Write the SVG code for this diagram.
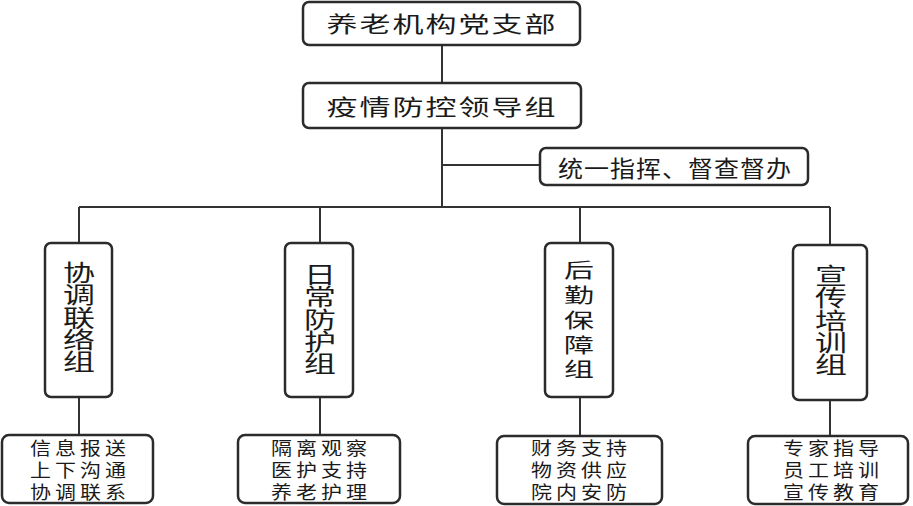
<svg xmlns="http://www.w3.org/2000/svg" width="913" height="506" viewBox="0 0 913 506">
<style>
.box{fill:#fff;stroke:#2b2b2b;stroke-width:2.5}
.ln{stroke:#333;stroke-width:2;fill:none}
text{font-family:"Noto Sans CJK SC","Noto Sans CJK JP",sans-serif;fill:#1a1a1a;text-anchor:middle;dominant-baseline:central}
.t1{font-size:31px;letter-spacing:2px}
.t2{font-size:25px;letter-spacing:1px}
.tv{font-size:32px}
.tv3{font-size:30px}
.tb{font-size:21px;letter-spacing:4px}
</style>
<rect width="913" height="506" fill="#fff"/>
<g id="connectors">
<path class="ln" d="M442 45V83M442 128V207M442 165H540M79 207H830M79 207V243M320 207V243M580 207V243M830 207V245M79 397V435M320 397V435M580 397V436M830 400V436"/>
</g>
<g id="n1"><rect class="box" x="303" y="2" width="277" height="43" rx="6"/><text class="t1" transform="translate(442,23) scale(1,0.68)">养老机构党支部</text></g>
<g id="n2"><rect class="box" x="303" y="83" width="278" height="45" rx="6"/><text class="t1" transform="translate(442,106) scale(1,0.68)">疫情防控领导组</text></g>
<g id="n3"><rect class="box" x="540" y="148" width="268" height="37" rx="6"/><text class="t2" transform="translate(675,167) scale(1,0.9)">统一指挥、督查督办</text></g>
<g id="g1"><rect class="box" x="45" y="243" width="67" height="154" rx="6"/><text class="tv" transform="translate(79,271) scale(1,0.7)"><tspan x="0" y="0">协</tspan><tspan x="0" y="32">调</tspan><tspan x="0" y="64">联</tspan><tspan x="0" y="96">络</tspan><tspan x="0" y="128">组</tspan></text></g>
<g id="g2"><rect class="box" x="285" y="243" width="68" height="154" rx="6"/><text class="tv" transform="translate(320,273) scale(1,0.7)"><tspan x="0" y="0">日</tspan><tspan x="0" y="32">常</tspan><tspan x="0" y="64">防</tspan><tspan x="0" y="96">护</tspan><tspan x="0" y="128">组</tspan></text></g>
<g id="g3"><rect class="box" x="545" y="243" width="68" height="154" rx="6"/><text class="tv3" transform="translate(579,268) scale(1,0.68)"><tspan x="0" y="0">后</tspan><tspan x="0" y="36.76">勤</tspan><tspan x="0" y="73.5">保</tspan><tspan x="0" y="110.3">障</tspan><tspan x="0" y="147">组</tspan></text></g>
<g id="g4"><rect class="box" x="793" y="245" width="74" height="155" rx="6"/><text class="tv" transform="translate(831,274) scale(1,0.7)"><tspan x="0" y="0">宣</tspan><tspan x="0" y="32">传</tspan><tspan x="0" y="64">培</tspan><tspan x="0" y="96">训</tspan><tspan x="0" y="128">组</tspan></text></g>
<g id="b1"><rect class="box" x="2" y="435" width="151" height="68" rx="7"/><text class="tb" transform="translate(80,446.5) scale(1,0.85)"><tspan x="0" y="0">信息报送</tspan><tspan x="0" y="26">上下沟通</tspan><tspan x="0" y="52">协调联系</tspan></text></g>
<g id="b2"><rect class="box" x="238" y="435" width="162" height="68" rx="7"/><text class="tb" transform="translate(321,446.5) scale(1,0.85)"><tspan x="0" y="0">隔离观察</tspan><tspan x="0" y="26">医护支持</tspan><tspan x="0" y="52">养老护理</tspan></text></g>
<g id="b3"><rect class="box" x="497" y="436" width="165" height="68" rx="7"/><text class="tb" transform="translate(581,446.5) scale(1,0.85)"><tspan x="0" y="0">财务支持</tspan><tspan x="0" y="26">物资供应</tspan><tspan x="0" y="52">院内安防</tspan></text></g>
<g id="b4"><rect class="box" x="748" y="436" width="160" height="68" rx="7"/><text class="tb" transform="translate(833,446.5) scale(1,0.85)"><tspan x="0" y="0">专家指导</tspan><tspan x="0" y="26">员工培训</tspan><tspan x="0" y="52">宣传教育</tspan></text></g>
</svg>
